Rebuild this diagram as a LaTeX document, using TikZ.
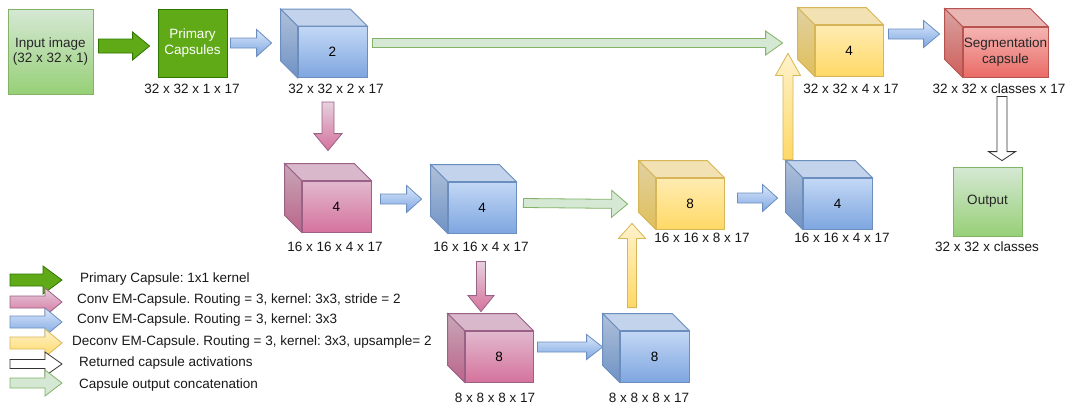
\documentclass[tikz,border=0pt]{standalone}
\usepackage{fontspec}
\setmainfont{Liberation Sans}
\usepackage{tikz}
\usetikzlibrary{calc,positioning}
\definecolor{pblue}{HTML}{DAE8FC}
\definecolor{pblueb}{HTML}{7EA6E0}
\definecolor{pblued}{HTML}{6C8EBF}
\definecolor{ppink}{HTML}{E6D0DE}
\definecolor{ppinkb}{HTML}{D5739D}
\definecolor{ppinkd}{HTML}{996185}
\definecolor{pyellow}{HTML}{FFF2CC}
\definecolor{pyellowb}{HTML}{FFD966}
\definecolor{pyellowd}{HTML}{D6B656}
\definecolor{pred}{HTML}{F8CECC}
\definecolor{predb}{HTML}{EA6B66}
\definecolor{predd}{HTML}{B85450}
\definecolor{pgreen}{HTML}{D5E8D4}
\definecolor{pgreenb}{HTML}{97D077}
\definecolor{pgreend}{HTML}{82B366}
\definecolor{pdgreen}{HTML}{60A917}
\definecolor{pdgreend}{HTML}{2D7600}
\newcommand{\lblfont}{\fontsize{13.5}{15.5}\selectfont\frenchspacing}
\tikzset{
  % front face of a cube, shaded top to bottom
  face/.style  = {rectangle, draw=#1d, top color=#1!75!#1b, bottom color=#1b, line width=0.8pt,
                  minimum width=69pt, minimum height=51pt, inner sep=0pt, align=center,
                  font=\lblfont, text=black},
  plain/.style = {rectangle, draw=#1d, top color=#1, bottom color=#1b, line width=0.8pt,
                  inner sep=0pt, align=center, font=\lblfont, text=black!85},
  prim/.style  = {rectangle, draw=pdgreend, fill=pdgreen, line width=0.8pt, inner sep=0pt,
                  align=center, font=\lblfont, text=white, minimum width=69pt, minimum height=68pt},
  dim/.style   = {font=\lblfont, text=black!90, inner sep=0pt},
  lgd/.style   = {font=\lblfont, text=black!90, inner sep=0pt, anchor=west},
  arr/.style   = {draw=#1d, top color=#1, bottom color=#1b, line width=0.8pt},
  darr/.style  = {draw=pdgreend, fill=pdgreen, line width=0.8pt},
  carr/.style  = {draw=pgreend, fill=pgreen, line width=0.8pt},
  warr/.style  = {draw=black!80, fill=white, line width=0.8pt},
}
% top and side faces behind a front face node
\newcommand{\cubefaces}[3][17]{%
  \draw[#3d, line width=0.8pt, fill=#3!85!#3b!95!black] (#2.north west) -- (#2.north east)
    -- ++(-#1,-#1) -- ($(#2.north west)+(-#1,-#1)$) -- cycle;
  \draw[#3d, line width=0.8pt, top color=#3!80!#3b!88!black, bottom color=#3b!88!black]
    (#2.north west) -- ($(#2.north west)+(-#1,-#1)$) -- ($(#2.south west)+(-#1,-#1)$)
    -- (#2.south west) -- cycle;
}
% block arrow: [style]{half shaft}{half head}{head length}{from}{to}
\newcommand{\blockarrow}[6][]{%
  \coordinate (ba-s) at (#5);
  \coordinate (ba-e) at (#6);
  \coordinate (ba-h) at ($(ba-e)!#4pt!(ba-s)$);
  \draw[#1] ($(ba-s)!#2pt!90:(ba-e)$) -- ($(ba-h)!#2pt!90:(ba-e)$) -- ($(ba-h)!#3pt!90:(ba-e)$)
    -- (ba-e) -- ($(ba-h)!#3pt!-90:(ba-e)$) -- ($(ba-h)!#2pt!-90:(ba-e)$)
    -- ($(ba-s)!#2pt!-90:(ba-e)$) -- cycle;
}

\begin{document}
\begin{tikzpicture}[x=1pt,y=-1pt]
\useasboundingbox (0,0) rectangle (1071,405);
\fill[white] (0,0) rectangle (1071,405);
% input and primary capsules
\node[plain=pgreen, minimum width=85pt, minimum height=85pt] (in) at (50.5,51.5) {Input image\\(32 x 32 x 1)};
\node[prim] (prim) at (192.5,43) {Primary\\Capsules};
% cubes
\node[face=pblue] (c1) at (332.5,52) {2};
\cubefaces{c1}{pblue}
\node[face=pyellow, minimum width=68pt] (yt) at (849,50.5) {4};
\cubefaces{yt}{pyellow}
\node[face=pred, minimum width=85pt, minimum height=50pt, text=black!85] (seg) at (1005.5,52) {Segmentation\\capsule};
\cubefaces[18]{seg}{pred}
\node[face=ppink] (p1) at (336.5,206.5) {4};
\cubefaces{p1}{ppink}
\node[face=pblue, minimum width=68pt] (bm) at (482,207.5) {4};
\cubefaces{bm}{pblue}
\node[face=pyellow, minimum width=68pt] (y8) at (690,203.5) {8};
\cubefaces{y8}{pyellow}
\node[face=pblue] (br) at (837.5,203.5) {4};
\cubefaces{br}{pblue}
\node[face=ppink, minimum width=68pt] (p8) at (499,356.5) {8};
\cubefaces{p8}{ppink}
\node[face=pblue] (b8) at (654.5,356.5) {8};
\cubefaces{b8}{pblue}
\node[plain=pgreen, minimum width=69pt, minimum height=69pt] (out) at (987.5,201.5) {Output};
% sizes
\node[dim] (d-prim) at (192,89) {32 x 32 x 1 x 17};
\node[dim] (d-c1) at (336,89) {32 x 32 x 2 x 17};
\node[dim] (d-yt) at (851,89) {32 x 32 x 4 x 17};
\node[dim] (d-seg) at (999,89) {32 x 32 x classes x 17};
\node[dim] (d-p1) at (335,247) {16 x 16 x 4 x 17};
\node[dim] (d-bm) at (481,247) {16 x 16 x 4 x 17};
\node[dim] (d-y8) at (702,238) {16 x 16 x 8 x 17};
\node[dim] (d-br) at (842,238) {16 x 16 x 4 x 17};
\node[dim] (d-out) at (987,247) {32 x 32 x classes};
\node[dim] (d-p8) at (495,398) {8 x 8 x 8 x 17};
\node[dim] (d-b8) at (649,398) {8 x 8 x 8 x 17};
% connectors
\blockarrow[darr]{7}{14}{17}{$(in.east)+(5,-5.5)$}{$(prim.west)+(-8,3)$}
\blockarrow[arr=pblue]{5}{13.5}{15}{$(prim.east)+(3,0)$}{$(c1.west)+(-26,-9)$}
\blockarrow[carr]{4.5}{12}{17}{$(c1.east)+(5,-9)$}{$(yt.west)+(-32,-7.5)$}
\blockarrow[arr=pblue]{5}{13.5}{16}{$(yt.east)+(5,-16.5)$}{$(seg.west)+(-23,-18)$}
\blockarrow[warr]{5}{13.5}{9}{$(seg.south)+(-3.5,19)$}{$(out.north)+(14.5,-6)$}
\blockarrow[arr=ppink]{6}{14}{17}{$(c1.south)+(-4.5,24)$}{$(p1.north)+(-8.5,-30)$}
\blockarrow[arr=pblue]{5}{13.5}{15}{$(p1.east)+(9,-7.5)$}{$(bm.west)+(-26,-8.5)$}
\blockarrow[carr]{4.5}{13.5}{16}{$(bm.east)+(7,-4.5)$}{$(y8.west)+(-28,0.5)$}
\blockarrow[arr=pblue]{5}{13.5}{15}{$(y8.east)+(13,-5.5)$}{$(br.west)+(-25,-5.5)$}
\blockarrow[arr=pyellow]{5}{12.5}{22}{$(br.north)+(-49.5,-18)$}{$(yt.south)+(-61,-23)$}
\blockarrow[arr=ppink]{4.5}{13}{16}{$(bm.south)+(-1,28)$}{$(p8.north)+(-18,-19)$}
\blockarrow[arr=pblue]{5}{12.5}{16}{$(p8.east)+(4,-9.5)$}{$(b8.west)+(-17,-9.5)$}
\blockarrow[arr=pyellow]{4.5}{13.5}{15}{$(b8.north)+(-22.5,-23)$}{$(y8.south)+(-58,-6)$}
% legend
\coordinate (lg1s) at (10,280); \coordinate (lg1e) at (62,280);
\coordinate (lg2s) at (10,302); \coordinate (lg2e) at (62,302);
\coordinate (lg3s) at (10,322); \coordinate (lg3e) at (62,322);
\coordinate (lg4s) at (10,343); \coordinate (lg4e) at (62,343);
\coordinate (lg5s) at (10,364); \coordinate (lg5e) at (62,364);
\coordinate (lg6s) at (10,383); \coordinate (lg6e) at (62,383);
\blockarrow[darr]{6}{14}{19}{lg1s}{lg1e}
\blockarrow[arr=ppink]{6}{14}{17}{lg2s}{lg2e}
\blockarrow[arr=pblue]{6}{14}{17}{lg3s}{lg3e}
\blockarrow[arr=pyellow]{6}{14}{17}{lg4s}{lg4e}
\blockarrow[warr]{4.5}{12}{17}{lg5s}{lg5e}
\blockarrow[carr]{5}{13}{17}{lg6s}{lg6e}
\node[lgd] (lg1t) at (80,279) {Primary Capsule: 1x1 kernel};
\node[lgd] (lg2t) at (77,300) {Conv EM-Capsule. Routing = 3, kernel: 3x3, stride = 2};
\node[lgd] (lg3t) at (77,320) {Conv EM-Capsule. Routing = 3, kernel: 3x3};
\node[lgd] (lg4t) at (72,342) {Deconv EM-Capsule. Routing = 3, kernel: 3x3, upsample= 2};
\node[lgd] (lg5t) at (79,363) {Returned capsule activations};
\node[lgd] (lg6t) at (79,385) {Capsule output concatenation};
\end{tikzpicture}
\end{document}
